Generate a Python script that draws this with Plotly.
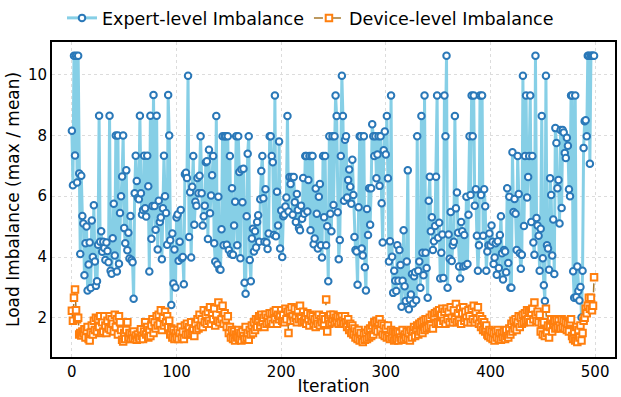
import plotly.graph_objects as go

# Per-iteration load imbalance (max / mean), iterations 0..499
expert_imbalance = [
    8.15, 6.36, 10.62, 7.34, 10.62, 6.45, 10.62, 6.75, 4.1, 6.67,
    5.35, 5.1, 3.4, 4.45, 5.0, 2.9, 3.75, 4.48, 2.98, 5.2,
    4.0, 5.7, 3.85, 3.05, 3.2, 4.4, 8.65, 4.5, 4.85, 4.17,
    4.5, 4.3, 3.9, 4.48, 4.2, 3.83, 8.65, 3.55, 3.45, 4.62,
    5.75, 4.05, 8.0, 3.52, 8.0, 3.78, 5.45, 6.0, 6.65, 8.0,
    4.95, 4.45, 6.85, 4.22, 4.8, 3.95, 5.35, 3.9, 3.83, 2.63,
    6.1, 7.33, 6.5, 5.95, 5.9, 8.65, 6.1, 5.4, 5.55, 7.33,
    5.6, 5.33, 7.33, 6.33, 3.52, 8.65, 4.6, 5.68, 9.33, 5.68,
    4.9, 8.65, 4.25, 5.85, 5.15, 5.3, 3.93, 5.6, 7.33, 6.0,
    5.45, 4.4, 9.33, 8.0, 4.55, 2.42, 4.77, 3.13, 4.25, 3.0,
    5.3, 5.4, 3.88, 4.5, 5.55, 3.96, 4.0, 3.1, 6.72, 6.77,
    6.6, 9.96, 4.66, 6.13, 3.98, 6.31, 7.32, 5.06, 5.82, 5.69,
    6.6, 6.1, 6.67, 7.97, 6.1, 5.04, 5.34, 5.69, 7.12, 7.15,
    4.59, 7.53, 5.44, 6.02, 6.69, 7.32, 4.45, 3.85, 8.64, 3.75,
    5.98, 3.6, 3.58, 4.91, 7.97, 4.39, 7.97, 7.97, 4.4, 7.97,
    4.23, 7.32, 4.1, 6.26, 4.07, 5.04, 5.82, 7.97, 4.39, 7.97,
    6.8, 3.96, 6.88, 5.8, 6.9, 3.15, 2.79, 5.34, 7.4, 7.97,
    3.9, 3.2, 4.61, 4.93, 4.18, 4.85, 4.31, 5.15, 5.37, 4.5,
    5.9, 6.83, 7.32, 5.93, 4.5, 6.23, 4.48, 4.26, 4.77, 7.97,
    7.97, 7.32, 7.12, 4.72, 9.31, 4.68, 6.15, 5.04, 7.8, 4.28,
    5.53, 4.0, 5.34, 5.4, 5.66, 5.96, 8.64, 5.5, 6.63, 6.4,
    6.63, 5.39, 6.63, 5.8, 5.15, 6.07, 5.55, 4.95, 4.88, 5.69,
    5.26, 6.6, 5.42, 7.32, 7.32, 5.5, 6.53, 7.32, 4.88, 7.32,
    7.32, 4.42, 4.61, 6.25, 5.42, 4.28, 5.98, 6.4, 4.39, 3.98,
    7.32, 5.31, 7.32, 4.39, 5.01, 3.2, 7.97, 5.42, 4.85, 7.97,
    5.71, 7.97, 9.31, 8.64, 5.47, 3.93, 4.56, 7.32, 9.96, 8.64,
    5.85, 7.86, 7.97, 5.96, 6.53, 6.88, 6.31, 5.75, 7.2, 6.04,
    4.66, 4.23, 4.18, 3.09, 5.64, 7.97, 7.97, 4.28, 4.05, 7.97,
    3.66, 2.9, 5.58, 4.72, 6.26, 5.06, 6.26, 8.37, 7.97, 7.32,
    7.97, 6.59, 7.37, 7.97, 6.34, 7.97, 5.77, 4.48, 7.51, 8.13,
    7.37, 8.64, 6.59, 3.85, 4.52, 9.31, 4.01, 2.82, 3.55, 3.22,
    2.88, 4.39, 3.22, 4.23, 3.74, 2.36, 3.22, 4.88, 3.04, 2.55,
    3.85, 6.85, 2.28, 2.6, 2.77, 3.44, 2.47, 3.37, 3.5, 2.58,
    7.97, 3.55, 3.85, 2.99, 8.64, 4.14, 3.4, 9.31, 4.14, 3.64,
    2.66, 5.85, 6.64, 4.85, 5.31, 4.23, 4.52, 5.02, 6.64, 9.31,
    4.63, 5.13, 3.29, 4.14, 4.74, 3.31, 9.31, 7.97, 10.62, 2.99,
    4.74, 3.94, 5.48, 3.87, 4.39, 4.5, 8.64, 5.6, 6.12, 4.8,
    3.69, 3.29, 5.15, 4.85, 3.69, 4.72, 3.71, 5.98, 3.77, 5.39,
    7.97, 6.04, 9.31, 7.97, 9.31, 5.69, 6.23, 4.7, 3.55, 4.39,
    9.31, 6.04, 9.31, 4.7, 6.23, 5.67, 3.55, 4.18, 4.39, 4.77,
    4.39, 5.04, 4.5, 3.77, 3.98, 4.45, 3.42, 4.52, 3.64, 4.72,
    5.34, 4.12, 3.26, 4.23, 4.18, 3.5, 6.26, 3.8, 5.98, 2.99,
    2.99, 7.45, 5.48, 5.91, 5.42, 4.23, 7.32, 6.07, 4.12, 3.61,
    4.07, 9.96, 5.02, 7.32, 9.31, 5.96, 6.63, 7.32, 9.31, 5.15,
    7.32, 4.48, 4.07, 10.62, 5.28, 5.04, 4.7, 3.55, 4.93, 8.64,
    3.96, 3.07, 2.55, 9.96, 4.39, 4.28, 3.58, 6.59, 6.04, 4.05,
    5.23, 3.44, 8.24, 7.75, 6.26, 6.53, 5.1, 8.18, 5.61, 8.18,
    8.1, 7.42, 7.26, 7.92, 7.66, 6.23, 6.0, 9.31, 9.31, 3.53,
    2.66, 9.31, 2.68, 3.69, 2.88, 2.57, 3.01, 2.01, 3.55, 7.59,
    8.47, 8.5, 7.97, 10.62, 10.62, 7.07, 10.62, 10.62, 10.62, 10.62,
]

device_imbalance = [
    2.23, 1.9, 2.66, 2.93, 2.25, 1.95, 2.0, 1.45, 1.5, 1.42,
    1.55, 1.48, 1.62, 1.35, 1.58, 1.7, 1.3, 1.25, 1.52, 1.75,
    1.45, 1.9, 1.6, 2.0, 1.55, 1.95, 1.7, 2.05, 1.5, 1.85,
    1.55, 2.05, 1.75, 1.5, 1.9, 1.65, 2.05, 1.6, 1.95, 1.8,
    1.55, 2.1, 1.7, 1.95, 1.45, 2.05, 1.85, 1.6, 1.28, 1.22,
    1.5, 1.3, 1.6, 1.85, 1.35, 1.5, 1.3, 1.45, 1.32, 1.55,
    1.3, 1.42, 1.28, 1.45, 1.35, 1.3, 1.62, 1.4, 1.3, 1.55,
    1.85, 1.45, 1.7, 1.35, 1.6, 1.4, 1.75, 1.95, 1.5, 1.85,
    1.65, 2.05, 1.75, 2.1, 1.8, 2.25, 1.6, 2.0, 1.75, 2.2,
    1.85, 2.05, 1.7, 1.9, 1.45, 1.65, 1.35, 1.6, 1.3, 1.5,
    1.35, 1.6, 1.3, 1.5, 1.7, 1.35, 1.55, 1.3, 1.75, 1.45,
    1.8, 1.45, 1.7, 1.5, 1.85, 1.55, 1.65, 1.4, 1.8, 1.6,
    1.95, 1.65, 2.1, 1.75, 1.95, 1.7, 2.25, 1.85, 2.1, 1.8,
    2.2, 1.9, 2.35, 1.8, 2.15, 1.95, 2.3, 1.75, 2.1, 1.9,
    2.5, 1.85, 2.3, 1.95, 2.4, 1.8, 2.15, 1.95, 1.7, 2.05,
    1.5, 1.7, 1.35, 1.6, 1.3, 1.55, 1.25, 1.45, 1.35, 1.6,
    1.3, 1.5, 1.25, 1.55, 1.4, 1.3, 1.7, 1.35, 1.5, 1.28,
    1.6, 1.45, 1.75, 1.5, 1.85, 1.6, 1.95, 1.7, 1.9, 2.05,
    1.75, 2.1, 1.85, 2.0, 1.7, 2.1, 1.8, 2.0, 1.85, 2.15,
    1.9, 2.15, 1.8, 2.2, 1.95, 2.25, 1.8, 2.1, 1.95, 2.05,
    2.25, 1.9, 2.1, 1.85, 2.3, 1.95, 2.2, 1.5, 2.25, 1.9,
    2.35, 2.05, 1.9, 2.3, 2.0, 1.85, 2.25, 1.95, 2.4, 2.0,
    1.85, 2.2, 1.9, 2.05, 1.8, 2.15, 1.95, 1.75, 2.1, 1.9,
    2.05, 1.8, 1.95, 1.7, 2.0, 1.8, 2.1, 1.75, 1.95, 1.85,
    2.05, 1.8, 1.95, 2.6, 1.55, 2.0, 1.8, 2.1, 1.85, 1.95,
    2.1, 1.85, 2.0, 1.9, 2.05, 1.8, 2.0, 1.85, 2.05, 1.9,
    1.8, 2.05, 1.85, 1.7, 1.95, 1.6, 1.8, 1.5, 1.75, 1.45,
    1.65, 1.35, 1.55, 1.3, 1.6, 1.25, 1.5, 1.3, 1.2, 1.45,
    1.28, 1.5, 1.3, 1.6, 1.35, 1.65, 1.4, 1.75, 1.45, 1.85,
    1.6, 1.9, 1.55, 1.85, 1.95, 1.6, 1.8, 1.45, 1.75, 1.4,
    1.65, 1.35, 1.75, 1.4, 1.3, 1.6, 1.35, 1.55, 1.25, 1.5,
    1.3, 1.55, 1.25, 1.5, 1.35, 1.28, 1.6, 1.3, 1.45, 1.35,
    1.55, 1.3, 1.5, 1.25, 1.6, 1.35, 1.55, 1.7, 1.4, 1.6,
    1.75, 1.45, 1.8, 1.55, 1.85, 1.5, 1.9, 1.6, 1.95, 1.65,
    1.95, 1.7, 2.0, 1.75, 2.1, 1.65, 2.05, 2.15, 1.8, 2.2,
    1.85, 2.25, 1.8, 2.1, 2.3, 1.9, 2.2, 1.8, 2.3, 1.95,
    2.2, 1.85, 2.35, 2.0, 1.85, 2.25, 1.95, 2.45, 1.85, 2.15,
    1.9, 2.3, 1.8, 2.15, 2.35, 1.9, 2.2, 2.0, 1.85, 2.25,
    2.05, 1.85, 2.3, 1.95, 2.4, 1.85, 2.2, 1.95, 2.35, 1.8,
    2.05, 1.7, 1.95, 1.6, 1.85, 1.55, 1.75, 1.45, 1.4, 1.6,
    1.35, 1.55, 1.3, 1.5, 1.25, 1.55, 1.35, 1.6, 1.3, 1.5,
    1.28, 1.5, 1.35, 1.55, 1.3, 1.6, 1.4, 1.35, 1.65, 1.45,
    1.8, 1.55, 1.9, 1.65, 1.95, 1.6, 1.85, 2.05, 1.7, 2.0,
    1.8, 2.1, 1.85, 2.15, 1.9, 2.25, 1.95, 2.2, 1.85, 2.15,
    2.3, 1.95, 2.5, 2.1, 1.9, 2.2, 1.85, 2.1, 1.55, 1.8,
    1.45, 1.85, 1.4, 2.3, 1.5, 1.75, 1.35, 1.7, 1.95, 1.55,
    1.8, 1.9, 1.65, 1.95, 1.7, 1.9, 1.75, 1.65, 1.95, 1.7,
    1.9, 1.65, 1.85, 1.6, 1.8, 1.55, 1.85, 1.95, 1.4, 1.3,
    1.55, 1.25, 1.7, 1.2, 1.6, 1.35, 1.75, 1.25, 1.5, 1.9,
    2.0, 2.3, 2.15, 2.4, 2.66, 2.3, 2.66, 2.25, 2.4, 3.33,
]

iterations = list(range(len(expert_imbalance)))

y_ticks = [2, 4, 6, 8, 10]
x_ticks = [0, 100, 200, 300, 400, 500]

FONT = "DejaVu Sans, sans-serif"

fig = go.Figure()

fig.add_trace(go.Scatter(
    x=iterations, y=expert_imbalance,
    mode="lines+markers",
    name="Expert-level Imbalance",
    line=dict(color="#86cfe6", width=3),
    marker=dict(symbol="circle", size=6.5, color="white",
                line=dict(color="#2a78b8", width=2)),
))

fig.add_trace(go.Scatter(
    x=iterations, y=device_imbalance,
    mode="lines+markers",
    name="Device-level Imbalance",
    line=dict(color="#a8782c", width=1.5, dash="dash"),
    marker=dict(symbol="square", size=6.5, color="white",
                line=dict(color="#ff7f0e", width=2)),
))

axis_common = dict(
    showline=True, linecolor="black", linewidth=1.8, mirror=True,
    showgrid=True, gridcolor="#dcdcdc", griddash="dot", gridwidth=1,
    zeroline=False, ticks="",
    tickfont=dict(family=FONT, size=15, color="black"),
)

fig.update_xaxes(
    range=[-19, 519], tickvals=x_ticks,
    title=dict(text="Iteration", font=dict(family=FONT, size=17, color="black"),
               standoff=0),
    **axis_common,
)
fig.update_yaxes(
    range=[0.71, 11.08], tickvals=y_ticks,
    title=dict(text="Load Imbalance (max / mean)",
               font=dict(family=FONT, size=17, color="black"), standoff=4),
    **axis_common,
)

fig.update_layout(
    width=621, height=397,
    margin=dict(l=52, r=4, t=37, b=40),
    plot_bgcolor="white", paper_bgcolor="white",
    font=dict(family=FONT, color="black"),
    legend=dict(
        orientation="h", xref="container", yref="container",
        x=0.5, xanchor="center", y=1.0, yanchor="top",
        font=dict(family=FONT, size=17.5, color="black"),
        bgcolor="rgba(0,0,0,0)",
    ),
)

fig.write_html("out.html")
